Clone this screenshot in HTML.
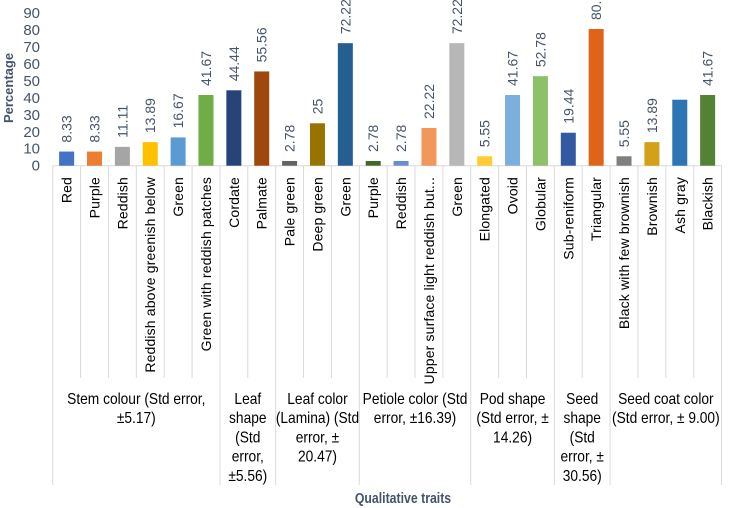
<!DOCTYPE html>
<html><head><meta charset="utf-8"><style>
html,body{margin:0;padding:0;background:#fff;}
svg{display:block;font-family:"Liberation Sans",sans-serif;}
</style></head><body>
<svg id="chart" width="751" height="508" viewBox="0 0 751 508"></svg>
<script>
const categories=["Red","Purple","Reddish","Reddish above greenish below","Green","Green with reddish patches","Cordate","Palmate","Pale green","Deep green","Green","Purple","Reddish","Upper surface light reddish but...","Green","Elongated","Ovoid","Globular","Sub-reniform","Triangular","Black with few brownish","Brownish","Ash gray","Blackish"];
const values=[8.33,8.33,11.11,13.89,16.67,41.67,44.44,55.56,2.78,25,72.22,2.78,2.78,22.22,72.22,5.55,41.67,52.78,19.44,80.56,5.55,13.89,38.89,41.67];
const valueLabels=["8.33","8.33","11.11","13.89","16.67","41.67","44.44","55.56","2.78","25","72.22","2.78","2.78","22.22","72.22","5.55","41.67","52.78","19.44","80.56","5.55","13.89","","41.67"];
const colors=["#4472c4","#ed7d31","#a5a5a5","#ffc000","#5b9bd5","#70ad47","#264478","#9e480e","#636363","#997300","#255e91","#43682b","#698ed0","#f1975a","#b7b7b7","#ffcd33","#7cafdd","#8cc168","#335aa1","#e0631a","#7f7f7f","#d4a017","#2e75b6","#548235"];
const groupNames=[["Stem colour (Std error,","±5.17)"],["Leaf","shape","(Std","error,","±5.56)"],["Leaf color","(Lamina) (Std","error, ±","20.47)"],["Petiole color (Std","error, ±16.39)"],["Pod shape","(Std error, ±","14.26)"],["Seed","shape","(Std","error, ±","30.56)"],["Seed coat color","(Std error, ± 9.00)"]];
const groupSizes=[6,2,3,4,3,2,4];
const yTicks=[0,10,20,30,40,50,60,70,80,90];

const svg=document.getElementById('chart');
const NS="http://www.w3.org/2000/svg";
const x0=52.7, cw=27.87, y0=165.7, yMax=90, yTop=13;
function yScale(v){return y0-(v/yMax)*(y0-yTop);}
function xCenter(i){return x0+cw*i+cw/2;}
function mk(tag,attrs,parent){const e=document.createElementNS(NS,tag);for(const k in attrs)e.setAttribute(k,attrs[k]);(parent||svg).appendChild(e);return e;}

yTicks.forEach(t=>{
  const tx=mk('text',{x:40,y:yScale(t)+5,'text-anchor':'end','font-size':15,fill:'#44546a'});
  tx.textContent=t;
  
  
});
const yt=mk('text',{transform:'translate(13,88) rotate(-90)','text-anchor':'middle','font-size':13,'font-weight':'bold',fill:'#44546a'});
yt.textContent='Percentage';



const ax=mk('line',{x1:x0,y1:y0,x2:x0+cw*categories.length,y2:y0,stroke:'#d9d9d9','stroke-width':1});



values.forEach((v,i)=>{
  const cx=xCenter(i), bw=15;
  const r=mk('rect',{x:cx-bw/2,y:yScale(v),width:bw,height:y0-yScale(v),fill:colors[i]});
  
  
  if(valueLabels[i]!==''){
    const t=mk('text',{transform:`translate(${cx+5},${yScale(v)-9}) rotate(-90)`,'font-size':14,fill:'#44546a'});
    t.textContent=valueLabels[i];
    
    
  }
  const c=mk('text',{transform:`translate(${cx+5},177) rotate(-90)`,'text-anchor':'end','font-size':14,'letter-spacing':0.15,fill:'#000'});
  c.textContent=categories[i];
  
  
});

let idx=0; const bounds=[0];
groupSizes.forEach(s=>{idx+=s;bounds.push(idx);});
for(let i=0;i<=categories.length;i++){
  const isGroup=bounds.includes(i);
  const l=mk('line',{x1:x0+cw*i,y1:y0,x2:x0+cw*i,y2:isGroup?485:378,stroke:'#d9d9d9','stroke-width':1});
  
  
}
groupNames.forEach((lines,g)=>{
  const cx=x0+cw*(bounds[g]+bounds[g+1])/2;
  lines.forEach((ln,j)=>{
    const t=mk('text',{transform:`translate(${cx},${404+j*19.2}) scale(0.86,1)`,'text-anchor':'middle','font-size':16,fill:'#000'});
    t.textContent=ln;
    
    
  });
});
const xt=mk('text',{transform:'translate(403,503) scale(0.82,1)','text-anchor':'middle','font-size':15,'font-weight':'bold',fill:'#44546a'});
xt.textContent='Qualitative traits';


</script>
</body></html>
